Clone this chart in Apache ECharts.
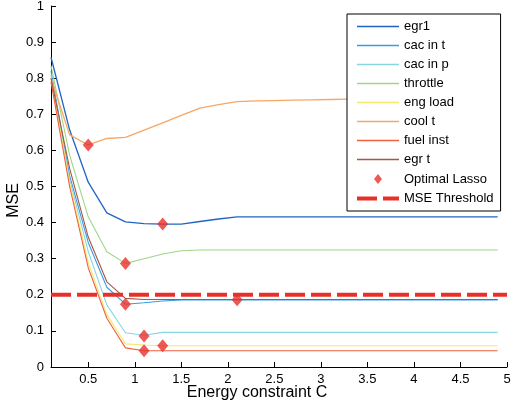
<!DOCTYPE html>
<html>
<head>
<meta charset="utf-8">
<script src="https://cdn.jsdelivr.net/npm/echarts@6/dist/echarts.min.js"></script>
<style>
  html, body { margin: 0; padding: 0; background: #fff; }
  #chart { width: 511px; height: 402px; }
</style>
</head>
<body>
<div id="chart"></div>
<script>
// Energy constraint values (x) shared by every MSE curve
const energy = [0.1, 0.3, 0.5, 0.7, 0.9, 1.1, 1.3, 1.5, 1.7, 1.9, 2.1, 2.3, 2.5,
                2.7, 2.9, 3.1, 3.3, 3.5, 3.7, 3.9, 4.1, 4.3, 4.5, 4.7, 4.9];

// MSE per sensor
const egr1     = [0.858, 0.657, 0.512, 0.427, 0.402, 0.397, 0.396, 0.396, 0.403, 0.410, 0.416, 0.416, 0.416,
                  0.416, 0.416, 0.416, 0.416, 0.416, 0.416, 0.416, 0.416, 0.416, 0.416, 0.416, 0.416];
const cacInT   = [0.820, 0.530, 0.345, 0.221, 0.174, 0.178, 0.183, 0.186, 0.186, 0.186, 0.186, 0.186, 0.186,
                  0.186, 0.186, 0.186, 0.186, 0.186, 0.186, 0.186, 0.186, 0.186, 0.186, 0.186, 0.186];
const cacInP   = [0.810, 0.520, 0.320, 0.172, 0.095, 0.088, 0.096, 0.096, 0.096, 0.096, 0.096, 0.096, 0.096,
                  0.096, 0.096, 0.096, 0.096, 0.096, 0.096, 0.096, 0.096, 0.096, 0.096, 0.096, 0.096];
const throttle = [0.835, 0.587, 0.416, 0.319, 0.287, 0.300, 0.313, 0.322, 0.324, 0.324, 0.324, 0.324, 0.324,
                  0.324, 0.324, 0.324, 0.324, 0.324, 0.324, 0.324, 0.324, 0.324, 0.324, 0.324, 0.324];
const engLoad  = [0.800, 0.510, 0.290, 0.145, 0.064, 0.061, 0.059, 0.059, 0.059, 0.059, 0.059, 0.059, 0.059,
                  0.059, 0.059, 0.059, 0.059, 0.059, 0.059, 0.059, 0.059, 0.059, 0.059, 0.059, 0.059];
const coolT    = [0.800, 0.643, 0.615, 0.633, 0.636, 0.656, 0.676, 0.697, 0.717, 0.727, 0.735, 0.737, 0.738,
                  0.739, 0.740, 0.741, 0.742, 0.742, 0.742, 0.742, 0.742, 0.742, 0.742, 0.742, 0.742];
const fuelInst = [0.790, 0.500, 0.275, 0.135, 0.053, 0.045, 0.045, 0.045, 0.045, 0.045, 0.045, 0.045, 0.045,
                  0.045, 0.045, 0.045, 0.045, 0.045, 0.045, 0.045, 0.045, 0.045, 0.045, 0.045, 0.045];
const egrT     = [0.800, 0.550, 0.360, 0.236, 0.190, 0.187, 0.187, 0.187, 0.187, 0.187, 0.187, 0.187, 0.187,
                  0.187, 0.187, 0.187, 0.187, 0.187, 0.187, 0.187, 0.187, 0.187, 0.187, 0.187, 0.187];

// Optimal Lasso points
const lassoC   = [0.5, 0.9, 0.9, 1.1, 1.1, 1.3, 1.3, 2.1];
const lassoMSE = [0.615, 0.174, 0.287, 0.086, 0.045, 0.059, 0.396, 0.186];

// Threshold level
const mseThreshold = 0.2;

// Axis ticks
const xTicks = [0.5, 1, 1.5, 2, 2.5, 3, 3.5, 4, 4.5, 5];
const yTicks = [0, 0.1, 0.2, 0.3, 0.4, 0.5, 0.6, 0.7, 0.8, 0.9, 1];
const xMin = 0.1, xMax = 5;

const curves = [
  { name: 'egr1',      values: egr1,     color: '#1f66c4', width: 1.3 },
  { name: 'cac in t',  values: cacInT,   color: '#3a9be3', width: 1.1 },
  { name: 'cac in p',  values: cacInP,   color: '#86d7e3', width: 1.1 },
  { name: 'throttle',  values: throttle, color: '#9fd686', width: 1.1 },
  { name: 'eng load',  values: engLoad,  color: '#f2ea6c', width: 1.1 },
  { name: 'cool t',    values: coolT,    color: '#f8a664', width: 1.3 },
  { name: 'fuel inst', values: fuelInst, color: '#f0603f', width: 1.1 },
  { name: 'egr t',     values: egrT,     color: '#a55844', width: 1.1 }
];

const RED = '#e8302a';
const FONT = '"Liberation Sans", Arial, sans-serif';
const DASH = [20, 6];

const series = curves.map(c => ({
  name: c.name,
  type: 'line',
  symbol: 'none',
  data: energy.map((x, i) => [x, c.values[i]]),
  lineStyle: { color: c.color, width: c.width },
  itemStyle: { color: c.color },
  z: 2
}));

series.push({
  name: 'MSE Threshold',
  type: 'line',
  symbol: 'none',
  data: [[xMin, mseThreshold], [xMax, mseThreshold]],
  lineStyle: { color: RED, width: 4, type: DASH },
  itemStyle: { color: RED },
  z: 3
});

series.push({
  name: 'Optimal Lasso',
  type: 'scatter',
  symbol: 'diamond',
  symbolSize: [11, 13],
  data: lassoC.map((x, i) => [x, lassoMSE[i]]),
  itemStyle: { color: RED },
  z: 4
});

// Line entries show only the stroke, no marker dot
const noDot = () => ({ color: 'rgba(0,0,0,0)', borderColor: 'rgba(0,0,0,0)', borderWidth: 0 });
const legendData = curves.map(c => ({ name: c.name, itemStyle: noDot(), lineStyle: { width: 1.6, color: c.color } }));
legendData.push({ name: 'Optimal Lasso', icon: 'path://M-21,-7M21,7M0,-5L4,0L0,5L-4,0Z' });
legendData.push({ name: 'MSE Threshold', itemStyle: noDot(), lineStyle: { width: 4, color: RED, type: DASH } });

const fmt = v => String(+v.toFixed(1));

const chart = echarts.init(document.getElementById('chart'), null, { renderer: 'canvas' });
chart.setOption({
  animation: false,
  backgroundColor: '#ffffff',
  textStyle: { fontFamily: FONT },
  grid: { left: 51, right: 4, top: 6, bottom: 35, containLabel: false, outerBoundsMode: 'none' },
  legend: {
    orient: 'vertical',
    left: 347,
    top: 14,
    padding: [6, 7, 6, 8],
    itemWidth: 42,
    itemHeight: 14,
    itemGap: 6,
    borderColor: '#000',
    borderWidth: 1,
    backgroundColor: '#fff',
    textStyle: { color: '#000', fontSize: 13, fontFamily: FONT },
    data: legendData
  },
  xAxis: {
    type: 'value',
    min: xMin,
    max: xMax,
    name: 'Energy constraint C',
    nameLocation: 'middle',
    nameGap: 18,
    nameMoveOverlap: false,
    nameTextStyle: { color: '#000', fontSize: 16, fontFamily: FONT, padding: [0, 44, 0, 0] },
    axisLine: { show: true, lineStyle: { color: '#000', width: 1 } },
    axisTick: { show: true, inside: true, length: 5, customValues: xTicks, lineStyle: { color: '#000' } },
    axisLabel: { customValues: xTicks, formatter: fmt, color: '#000', fontSize: 13, margin: 6, fontFamily: FONT },
    splitLine: { show: false }
  },
  yAxis: {
    type: 'value',
    min: 0,
    max: 1,
    interval: 0.1,
    name: 'MSE',
    nameLocation: 'middle',
    nameGap: 29,
    nameMoveOverlap: false,
    nameTextStyle: { color: '#000', fontSize: 16, fontFamily: FONT, padding: [0, 28, 0, 0] },
    axisLine: { show: true, lineStyle: { color: '#000', width: 1 } },
    axisTick: { show: true, inside: true, length: 5, customValues: yTicks, lineStyle: { color: '#000' } },
    axisLabel: { customValues: yTicks, formatter: fmt, color: '#000', fontSize: 13, margin: 7, fontFamily: FONT },
    splitLine: { show: false }
  },
  series: series
});
</script>
</body>
</html>
